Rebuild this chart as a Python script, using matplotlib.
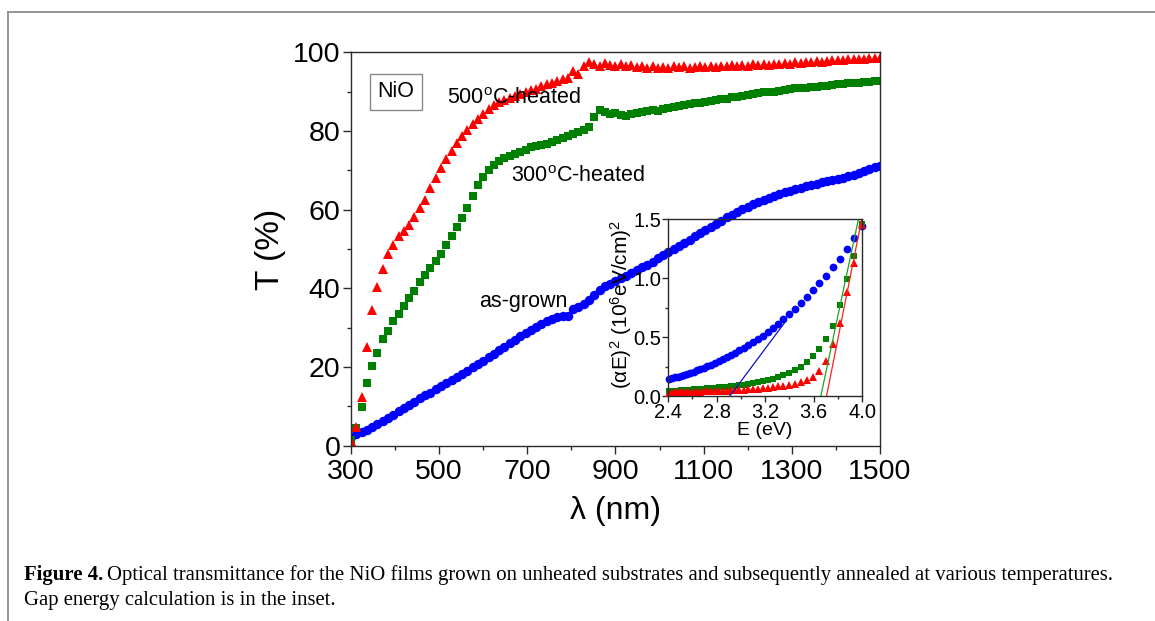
import matplotlib
matplotlib.use('Agg')
import matplotlib.pyplot as plt
from matplotlib.lines import Line2D
from matplotlib.ticker import MultipleLocator
import numpy as np

plt.rcParams['font.family'] = ['Liberation Sans', 'DejaVu Sans']
plt.rcParams['mathtext.default'] = 'regular'

# main panel: transmittance vs wavelength (12 nm grid, 300-1500 nm)
wavelength = np.arange(300, 1501, 12)

T_500 = [1.3, 4.8, 12.3, 25.0, 34.5, 40.3, 45.0, 48.7, 51.0, 53.3,
         54.5, 56.0, 58.0, 60.5, 62.5, 65.5, 68.0, 70.5, 72.8, 75.0,
         77.0, 78.7, 80.2, 81.7, 83.0, 84.3, 85.5, 86.5, 87.3, 87.9,
         88.4, 88.9, 89.3, 89.8, 90.3, 90.7, 91.3, 91.8, 92.2, 92.8,
         93.2, 93.5, 95.3, 94.5, 96.6, 97.4, 97.0, 96.6, 97.3, 96.8,
         96.6, 96.9, 96.4, 96.7, 96.2, 96.5, 96.1, 96.4, 96.0, 96.3,
         96.1, 96.5, 96.2, 96.4, 96.0, 96.3, 96.6, 96.2, 96.5, 96.3,
         96.6, 96.4, 96.7, 96.5, 96.8, 96.6, 96.9, 96.7, 97.0, 96.8,
         97.1, 97.0, 97.3, 97.1, 97.4, 97.3, 97.5, 97.4, 97.7, 97.6,
         97.8, 97.9, 98.1, 98.0, 98.3, 98.2, 98.4, 98.3, 98.5, 98.6,
         98.6]

T_300 = [1.5, 4.5, 9.8, 16.0, 20.2, 23.5, 27.0, 29.2, 31.6, 33.5,
         35.4, 37.5, 39.4, 41.6, 43.4, 45.2, 47.0, 48.8, 50.9, 53.3,
         55.5, 57.8, 60.5, 63.5, 66.2, 68.3, 70.0, 71.3, 72.3, 73.0,
         73.5, 74.1, 74.6, 75.2, 75.8, 76.1, 76.5, 76.8, 77.3, 77.8,
         78.2, 78.7, 79.2, 79.8, 80.3, 80.9, 83.6, 85.2, 84.8, 84.3,
         84.6, 84.0, 83.7, 84.2, 84.5, 84.8, 85.0, 85.2, 85.0, 85.5,
         85.8, 86.0, 86.3, 86.5, 86.8, 87.0, 87.2, 87.4, 87.6, 87.8,
         88.0, 88.2, 88.5, 88.7, 89.0, 89.1, 89.3, 89.6, 89.8, 89.9,
         90.0, 90.2, 90.5, 90.6, 90.8, 90.9, 91.0, 91.1, 91.2, 91.3,
         91.4, 91.6, 91.8, 91.9, 92.1, 92.2, 92.3, 92.4, 92.5, 92.6,
         92.7]

T_asgrown = [2.2, 3.0, 3.5, 4.0, 4.7, 5.5, 6.3, 7.1, 7.9, 8.7,
             9.6, 10.4, 11.2, 12.0, 12.8, 13.5, 14.3, 15.1, 15.9, 16.7,
             17.5, 18.3, 19.1, 19.9, 20.7, 21.6, 22.5, 23.4, 24.3, 25.2,
             26.0, 26.9, 27.8, 28.6, 29.4, 30.2, 31.0, 31.6, 32.2, 32.8,
             32.9, 33.0, 34.8, 35.3, 36.0, 37.0, 38.2, 39.5, 40.5, 41.2,
             41.8, 42.5, 43.2, 43.9, 44.6, 45.3, 46.0, 46.8, 47.6, 48.4,
             49.2, 50.0, 50.8, 51.6, 52.4, 53.2, 54.0, 54.8, 55.6, 56.4,
             57.2, 58.0, 58.7, 59.4, 60.1, 60.7, 61.3, 61.9, 62.4, 62.9,
             63.4, 63.9, 64.4, 64.8, 65.2, 65.6, 66.0, 66.3, 66.6, 66.9,
             67.2, 67.5, 67.8, 68.1, 68.5, 68.9, 69.4, 69.9, 70.4, 70.8,
             71.2]

# inset: (alpha E)^2 vs photon energy
E_inset = [2.408, 2.431, 2.455, 2.480, 2.505, 2.531, 2.557, 2.583, 2.611, 2.638,
           2.667, 2.696, 2.725, 2.756, 2.787, 2.818, 2.851, 2.884, 2.918, 2.952,
           2.988, 3.024, 3.062, 3.100, 3.139, 3.179, 3.221, 3.263, 3.307, 3.351,
           3.397, 3.444, 3.493, 3.543, 3.594, 3.647, 3.701, 3.758, 3.815, 3.875,
           3.937, 4.000]
aE_asgrown = [0.145, 0.150, 0.158, 0.165, 0.172, 0.180, 0.188, 0.197, 0.207, 0.217,
              0.228, 0.240, 0.253, 0.267, 0.282, 0.298, 0.314, 0.330, 0.348, 0.367,
              0.387, 0.408, 0.430, 0.454, 0.480, 0.508, 0.540, 0.575, 0.612, 0.652,
              0.695, 0.740, 0.788, 0.840, 0.896, 0.955, 1.020, 1.090, 1.165, 1.245,
              1.340, 1.440]
aE_300 = [0.040, 0.042, 0.044, 0.046, 0.048, 0.050, 0.052, 0.054, 0.056, 0.058,
          0.060, 0.062, 0.065, 0.068, 0.070, 0.073, 0.076, 0.080, 0.084, 0.088,
          0.092, 0.097, 0.103, 0.110, 0.117, 0.125, 0.135, 0.147, 0.160, 0.175,
          0.195, 0.220, 0.250, 0.290, 0.340, 0.400, 0.480, 0.590, 0.770, 0.990,
          1.190, 1.460]
aE_500 = [0.028, 0.029, 0.030, 0.031, 0.032, 0.033, 0.034, 0.035, 0.036, 0.037,
          0.038, 0.039, 0.040, 0.041, 0.042, 0.043, 0.044, 0.045, 0.047, 0.049,
          0.051, 0.053, 0.056, 0.059, 0.062, 0.066, 0.070, 0.075, 0.081, 0.088,
          0.096, 0.105, 0.118, 0.135, 0.160, 0.210, 0.300, 0.440, 0.620, 0.880,
          1.130, 1.450]

# linear extrapolations to the energy axis
fit_asgrown_E = [2.91, 3.36]
fit_asgrown_y = [0.0, 0.62]
fit_300_E = [3.66, 3.97]
fit_300_y = [0.0, 1.50]
fit_500_E = [3.707, 3.997]
fit_500_y = [0.0, 1.50]

RED = '#ff0000'
GREEN = '#008000'
BLUE = '#0000ff'
SPINE = '#2a2a2a'

fig = plt.figure(figsize=(11.55, 6.21), dpi=100)

ax = fig.add_axes([0.3039, 0.2823, 0.4580, 0.6336])
ax.plot(wavelength, T_asgrown, 'o', color=BLUE, ms=6.8, mew=0)
ax.plot(wavelength, T_300, 's', color=GREEN, ms=5.8, mew=0)
ax.plot(wavelength, T_500, '^', color=RED, ms=7.8, mew=0)
ax.set_xlim(300, 1500)
ax.set_ylim(0, 100)
ax.set_xticks(range(300, 1501, 200))
ax.set_xticks(range(400, 1500, 200), minor=True)
ax.yaxis.set_major_locator(MultipleLocator(20))
ax.yaxis.set_minor_locator(MultipleLocator(10))
ax.tick_params(which='both', direction='out', top=False, right=False,
               width=1, color=SPINE, labelsize=20.5, pad=2)
ax.tick_params(axis='x', which='major', pad=4)
ax.tick_params(which='major', length=5.5)
ax.tick_params(which='minor', length=3)
for s in ax.spines.values():
    s.set_color(SPINE)
    s.set_linewidth(1.0)
ax.set_xlabel('λ (nm)', fontsize=23, labelpad=8)
ax.set_ylabel('T (%)', fontsize=24, labelpad=5)

ax.text(402, 89.9, 'NiO', fontsize=15.5, ha='center', va='center',
        bbox=dict(boxstyle='square,pad=0.35', fc='white', ec='#888888', lw=1))
ax.text(517, 88.3, '500$^{o}$C-heated', fontsize=15.5, ha='left', va='center')
ax.text(664, 68.3, '300$^{o}$C-heated', fontsize=15.5, ha='left', va='center')
ax.text(590, 36.6, 'as-grown', fontsize=15.5, ha='left', va='center')

# inset
axi = fig.add_axes([0.5784, 0.3623, 0.1680, 0.2850])
axi.set_facecolor('none')
axi.plot(E_inset, aE_asgrown, 'o', color=BLUE, ms=5.6, mew=0, clip_on=False)
axi.plot(E_inset, aE_300, 's', color=GREEN, ms=4.8, mew=0, clip_on=False)
axi.plot(E_inset, aE_500, '^', color=RED, ms=6.2, mew=0, clip_on=False)
axi.plot(fit_asgrown_E, fit_asgrown_y, '-', color='#1010c0', lw=0.9)
axi.plot(fit_300_E, fit_300_y, '-', color='#20a020', lw=0.9)
axi.plot(fit_500_E, fit_500_y, '-', color='#ff2020', lw=0.9)
axi.set_xlim(2.4, 4.0)
axi.set_ylim(0, 1.5)
axi.set_xticks([2.4, 2.8, 3.2, 3.6, 4.0])
axi.set_xticklabels(['2.4', '2.8', '3.2', '3.6', '4.0'])
axi.set_xticks([2.6, 3.0, 3.4, 3.8], minor=True)
axi.set_yticks([0, 0.5, 1.0, 1.5])
axi.set_yticklabels(['0.0', '0.5', '1.0', '1.5'])
axi.set_yticks([0.25, 0.75, 1.25], minor=True)
axi.tick_params(which='both', direction='out', top=False, right=False,
                width=1, color=SPINE, labelsize=14.5, pad=1)
axi.tick_params(which='major', length=4)
axi.tick_params(which='minor', length=2.5)
for s in axi.spines.values():
    s.set_color(SPINE)
    s.set_linewidth(1.0)
axi.set_xlabel('E (eV)', fontsize=14, labelpad=0)
axi.set_ylabel('($\\alpha$E)$^2$ (10$^6$eV/cm)$^2$', fontsize=15)
axi.yaxis.set_label_coords(-0.175, 0.52)

# page frame lines (top and left)
fig.add_artist(Line2D([8 / 1155, 1.0], [1 - 12 / 621, 1 - 12 / 621],
                      transform=fig.transFigure, color='#8c8c8c', lw=1.3))
fig.add_artist(Line2D([8 / 1155, 8 / 1155], [0.0, 1 - 12 / 621],
                      transform=fig.transFigure, color='#8c8c8c', lw=1.3))

# caption
cap_font = ['Liberation Serif', 'DejaVu Serif']
cap_size = 14.95
x0 = 24 / 1155
t1 = fig.text(x0, 1 - 575 / 621, 'Figure 4.', family=cap_font, weight='bold',
              fontsize=cap_size, va='center', ha='left')
fig.canvas.draw()
bb = t1.get_window_extent()
fig.text((bb.x1 + 4) / 1155, 1 - 575 / 621,
         'Optical transmittance for the NiO films grown on unheated substrates '
         'and subsequently annealed at various temperatures.',
         family=cap_font, fontsize=cap_size, va='center', ha='left')
fig.text(x0, 1 - 600 / 621, 'Gap energy calculation is in the inset.',
         family=cap_font, fontsize=cap_size, va='center', ha='left')

fig.savefig('out.png', dpi=100)
